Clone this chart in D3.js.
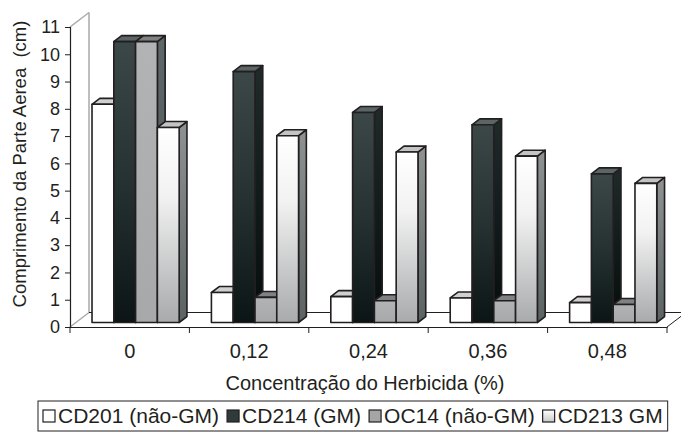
<!DOCTYPE html>
<html>
<head>
<meta charset="utf-8">
<script src="https://cdn.jsdelivr.net/npm/d3@7"></script>
<style>
  html, body { margin: 0; padding: 0; background: #ffffff; }
  svg { display: block; }
  text { font-family: "Liberation Sans", Arial, sans-serif; fill: #231f20; }
</style>
</head>
<body>
<svg id="chart" width="681" height="434"></svg>
<script>
// Herbicide concentration groups and shoot length (cm) per line
const categories = ["0", "0,12", "0,24", "0,36", "0,48"];
const seriesNames = ["CD201 (não-GM)", "CD214 (GM)", "OC14 (não-GM)", "CD213 GM"];
const cd201 = [8.0, 1.1, 0.95, 0.9, 0.73];
const cd214 = [10.3, 9.2, 7.7, 7.25, 5.45];
const oc14 = [10.3, 0.92, 0.8, 0.8, 0.66];
const cd213 = [7.15, 6.85, 6.25, 6.1, 5.1];
const yTicks = [0, 1, 2, 3, 4, 5, 6, 7, 8, 9, 10, 11];
const xTitle = "Concentração do Herbicida (%)";
const yTitle = "Comprimento da Parte Aerea  (cm)";

const values = [cd201, cd214, oc14, cd213];

const svg = d3.select("#chart");
const defs = svg.append("defs");

// plot frame (front plane) and 3D depth of the floor
const plotLeft = 70, plotRight = 667, plotTop = 27, plotBottom = 327;
const depthX = 19, depthY = -14.5;
const f0 = 0.31, f1 = 0.72; // bar front/back position inside the depth

const x = d3.scaleBand().domain(categories).range([plotLeft, plotRight]);
const xs = d3.scaleBand().domain(seriesNames).range([0, x.bandwidth()])
  .paddingInner(0).paddingOuter(0.74);
const y = d3.scaleLinear().domain([0, 11]).range([plotBottom, plotTop]);

// fill styles per series: front, top face, side face
function vGrad(id, stops) {
  const g = defs.append("linearGradient").attr("id", id)
    .attr("x1", 0).attr("y1", 0).attr("x2", 0).attr("y2", 1);
  stops.forEach(([o, c]) => g.append("stop").attr("offset", o).attr("stop-color", c));
  return `url(#${id})`;
}
const styles = [
  { front: "#ffffff", topFace: "#cfd0d0", side: "#9a9c9c", key: "#ffffff" },
  { front: vGrad("g214", [[0, "#3c4748"], [0.5, "#263131"], [1, "#0b1515"]]),
    topFace: "#5b6565", side: vGrad("g214s", [[0, "#1f2a2a"], [1, "#050c0c"]]), key: "#2f3a3a" },
  { front: vGrad("g14", [[0, "#b1b3b4"], [1, "#a6a8a9"]]),
    topFace: "#7e8282", side: vGrad("g14s", [[0, "#5f6868"], [1, "#4a5252"]]), key: "#a3a5a6" },
  { front: vGrad("g213", [[0, "#ffffff"], [0.35, "#f2f2f2"], [1, "#a8aaab"]]),
    topFace: "#c3c4c4", side: vGrad("g213s", [[0, "#8e9292"], [1, "#5a6262"]]),
    key: vGrad("g213k", [[0, "#ffffff"], [1, "#c8c9c9"]]) }
];

// back wall edge and floor outline
const wall = svg.append("g").attr("fill", "none");
wall.append("line").attr("x1", plotLeft + depthX).attr("x2", plotLeft + depthX)
  .attr("y1", plotTop + depthY).attr("y2", plotBottom + depthY).attr("stroke", "#a7a9aa").attr("stroke-width", 1.5);
wall.append("line").attr("x1", plotLeft).attr("y1", plotTop).attr("x2", plotLeft + depthX).attr("y2", plotTop + depthY)
  .attr("stroke", "#a7a9aa").attr("stroke-width", 1.5);
wall.append("line").attr("x1", plotLeft).attr("y1", plotBottom).attr("x2", plotLeft + depthX).attr("y2", plotBottom + depthY)
  .attr("stroke", "#a7a9aa").attr("stroke-width", 1.5);
wall.append("line").attr("x1", plotLeft + depthX).attr("x2", 681)
  .attr("y1", plotBottom + depthY).attr("y2", plotBottom + depthY).attr("stroke", "#231f20").attr("stroke-width", 1);
wall.append("line").attr("x1", plotRight).attr("y1", plotBottom).attr("x2", plotRight + depthX).attr("y2", plotBottom + depthY)
  .attr("stroke", "#231f20").attr("stroke-width", 1);

// bars: side, top and front faces, drawn left to right so each hides its neighbour's side
const bars = svg.append("g").attr("stroke", "#231f20").attr("stroke-width", 1.6).attr("stroke-linejoin", "round");
const bdx = (f1 - f0) * depthX, bdy = (f1 - f0) * depthY;
categories.forEach((cat, ci) => {
  seriesNames.forEach((s, si) => {
    const v = values[si][ci];
    const x0 = x(cat) + xs(s) + f0 * depthX;
    const w = xs.bandwidth();
    const yt = y(v) + f0 * depthY;
    const yb = y(0) + f0 * depthY;
    const st = styles[si];
    const g = bars.append("g");
    g.append("polygon")
      .attr("points", [[x0 + w, yt], [x0 + w + bdx, yt + bdy], [x0 + w + bdx, yb + bdy], [x0 + w, yb]].join(" "))
      .attr("fill", st.side);
    g.append("polygon")
      .attr("points", [[x0, yt], [x0 + w, yt], [x0 + w + bdx, yt + bdy], [x0 + bdx, yt + bdy]].join(" "))
      .attr("fill", st.topFace);
    g.append("rect").attr("x", x0).attr("y", yt).attr("width", w).attr("height", yb - yt)
      .attr("fill", st.front);
  });
});

// value axis
const yAxis = svg.append("g").attr("transform", `translate(${plotLeft},0)`)
  .call(d3.axisLeft(y).tickValues(yTicks).tickSize(5).tickPadding(5).tickFormat(d3.format("d")));
yAxis.select(".domain").attr("stroke", "#231f20").attr("stroke-width", 1.2);
yAxis.selectAll(".tick line").attr("stroke", "#231f20");
yAxis.selectAll(".tick text").attr("font-size", 18).attr("fill", "#231f20")
  .style("font-family", '"Liberation Sans", Arial, sans-serif');

// category axis: labels centred in each group, ticks at group boundaries
const xAxis = svg.append("g").attr("transform", `translate(0,${plotBottom})`)
  .call(d3.axisBottom(x).tickSize(0).tickPadding(17));
xAxis.select(".domain").attr("stroke", "#231f20").attr("stroke-width", 1.2);
xAxis.selectAll(".tick text").attr("font-size", 20).attr("fill", "#231f20")
  .style("font-family", '"Liberation Sans", Arial, sans-serif');
const bounds = categories.map(c => x(c)).concat([plotRight]);
svg.append("g").selectAll("line").data(bounds).join("line")
  .attr("x1", d => d).attr("x2", d => d).attr("y1", plotBottom).attr("y2", plotBottom + 6)
  .attr("stroke", "#231f20");

// titles
svg.append("text").attr("x", 365).attr("y", 390).attr("text-anchor", "middle")
  .attr("font-size", 20).text(xTitle);
svg.append("text").attr("transform", "translate(26,164) rotate(-90)").attr("text-anchor", "middle")
  .attr("font-size", 18.5).style("white-space", "pre").attr("xml:space", "preserve").text(yTitle);

// legend
const legend = svg.append("g");
const lgLeft = 38, lgTop = 401, lgFont = 21, lgGap = 8;
let cursor = lgLeft + 5;
seriesNames.forEach((s, i) => {
  legend.append("rect").attr("x", cursor).attr("y", lgTop + 9).attr("width", 12).attr("height", 12)
    .attr("fill", styles[i].key).attr("stroke", "#231f20").attr("stroke-width", 1.2);
  const t = legend.append("text").attr("x", cursor + 15).attr("y", lgTop + 22)
    .attr("font-size", lgFont).text(s);
  cursor += 15 + t.node().getComputedTextLength() + lgGap;
});
legend.insert("rect", ":first-child").attr("x", lgLeft).attr("y", lgTop)
  .attr("width", cursor - lgGap + 5 - lgLeft).attr("height", 30)
  .attr("fill", "none").attr("stroke", "#231f20").attr("stroke-width", 1);
</script>
</body>
</html>
